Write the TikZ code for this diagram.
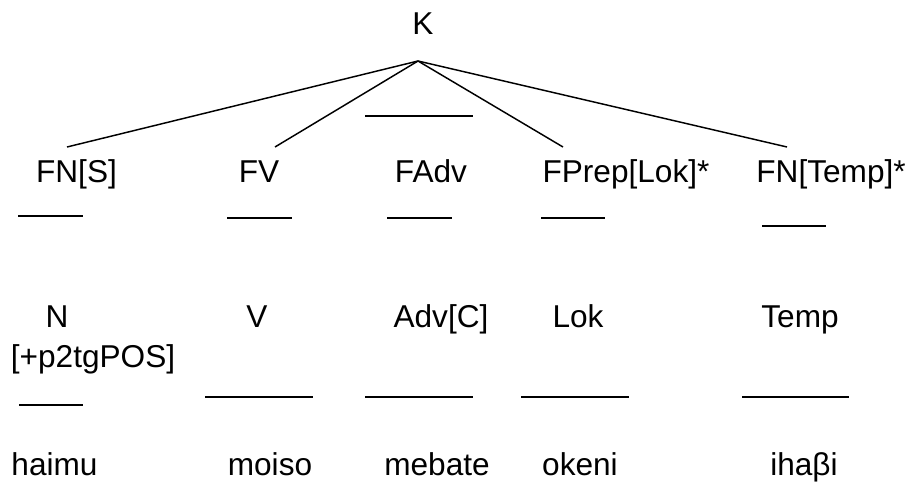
\documentclass[tikz,border=0pt]{standalone}
\usepackage{fontspec}
\setmainfont{Liberation Sans}
\usetikzlibrary{calc}

\begin{document}
\begin{tikzpicture}[
        x=0.75pt, y=-0.75pt,
        font=\fontsize{23.7}{28}\selectfont,
        label/.style={inner sep=0pt, anchor=base},
        branch/.style={line width=1.1pt},
        gapline/.style={line width=1.1pt},
    ]
        \useasboundingbox (0,0) rectangle (910,489);

        % --- Raiz y ramas ---
        \node[label] (k) at (423,34) {K};
        \coordinate (apex) at (418,61);
        \coordinate (fns-top) at (67,147);
        \coordinate (fv-top) at (275,147);
        \coordinate (fprep-top) at (563,147);
        \coordinate (fntemp-top) at (787,147);
        \foreach \leaf in {fns-top, fv-top, fprep-top, fntemp-top} {
            \draw[branch] (apex) -- (\leaf);
        }

        % --- Frases ---
        \node[label] (fns) at (76.5,182) {FN[S]};
        \node[label] (fv) at (259,182) {FV};
        \node[label] (fadv) at (431,182) {FAdv};
        \node[label] (fprep) at (626,182) {FPrep[Lok]*};
        \node[label] (fntemp) at (831,182) {FN[Temp]*};

        % --- Categorias ---
        \node[label] (n) at (57,327) {N};
        \node[label] (nfeat) at (93,367) {[+p2tgPOS]};
        \node[label] (v) at (257,327) {V};
        \node[label] (adv) at (441,327) {Adv[C]};
        \node[label] (lok) at (578,327) {Lok};
        \node[label] (temp) at (800,327) {Temp};

        % --- Palabras ---
        \node[label] (haimu) at (54.5,475) {haimu};
        \node[label] (moiso) at (270,475) {moiso};
        \node[label] (mebate) at (437,475) {mebate};
        \node[label] (okeni) at (580,475) {okeni};
        \node[label] (ihabi) at (804,475) {iha\char"03B2 i};

        % --- Espacios en blanco ---
        \foreach \xa/\xb/\y in {365/473/116,
                18/83/216, 227/292/218, 387/452/218, 541/605/218, 762/826/226,
                19/83/405, 205/313/397, 365/473/397, 521/629/397, 742/849/397} {
            \draw[gapline] (\xa,\y) -- (\xb,\y);
        }
    \end{tikzpicture}
\end{document}
